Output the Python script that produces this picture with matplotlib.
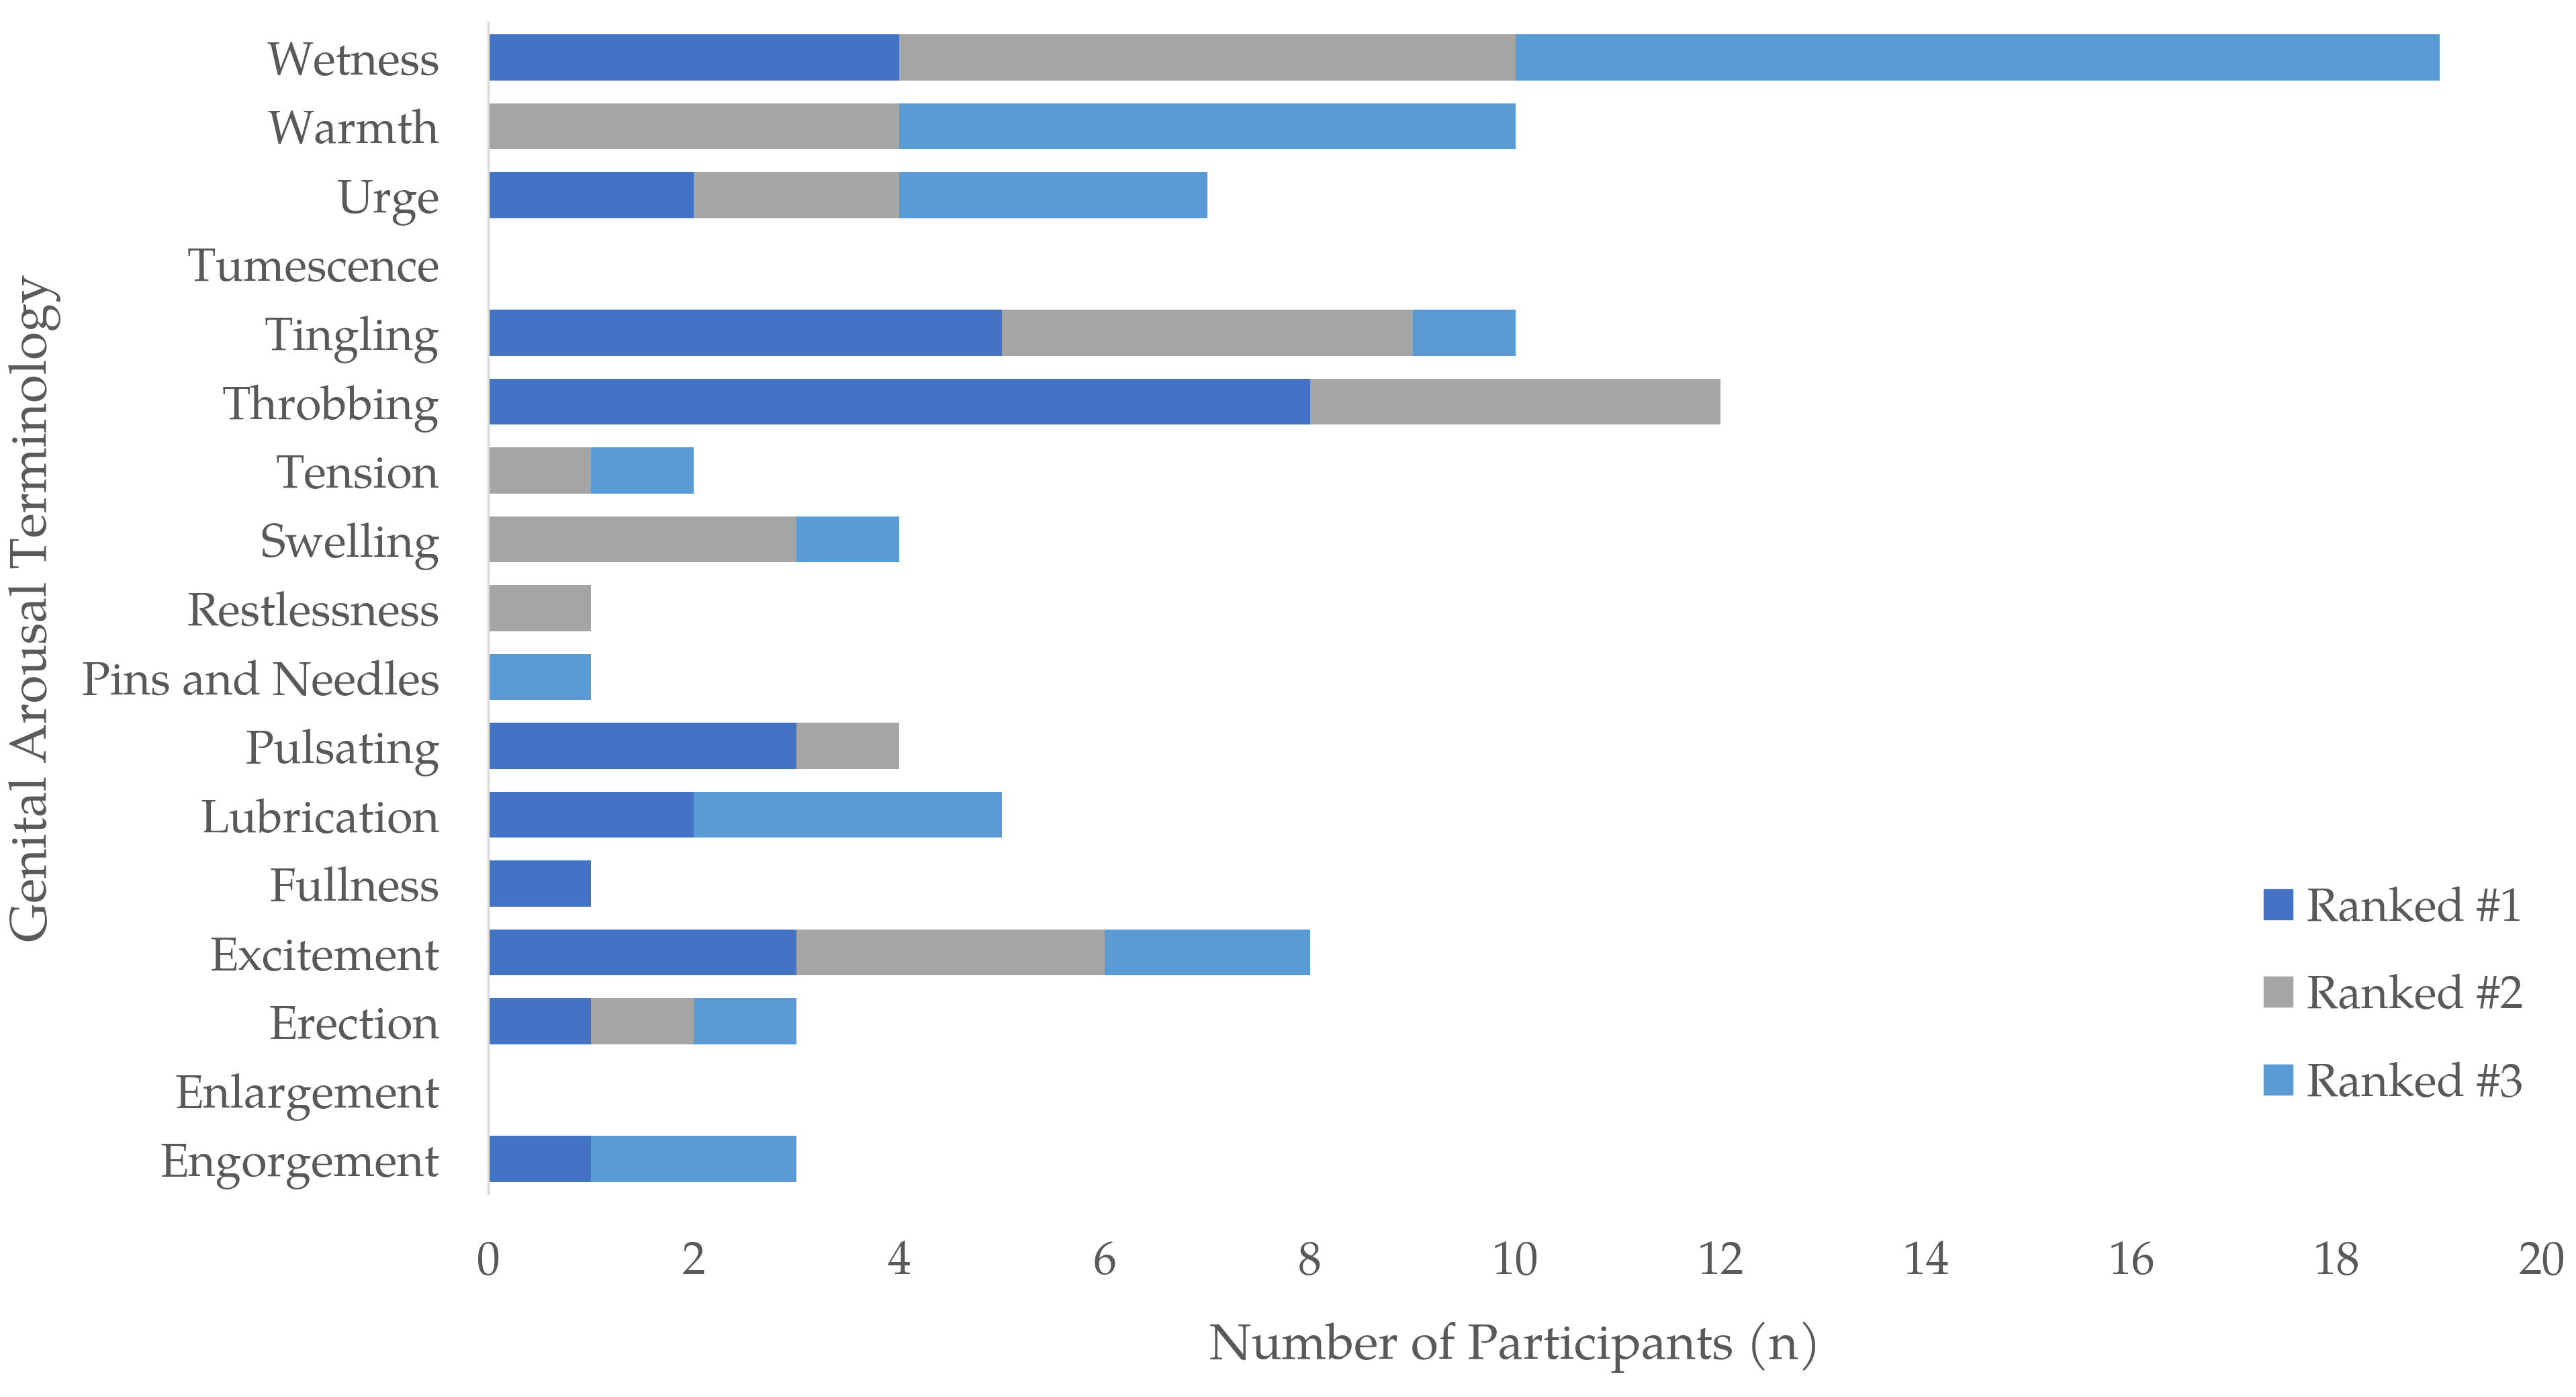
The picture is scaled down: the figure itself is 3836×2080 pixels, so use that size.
import numpy as np
import matplotlib
matplotlib.use("Agg")
import matplotlib.pyplot as plt
from matplotlib.patches import Patch

# categories listed bottom to top, as drawn
terms = ["Engorgement", "Enlargement", "Erection", "Excitement", "Fullness",
         "Lubrication", "Pulsating", "Pins and Needles", "Restlessness",
         "Swelling", "Tension", "Throbbing", "Tingling", "Tumescence",
         "Urge", "Warmth", "Wetness"]
ranked1 = [1, 0, 1, 3, 1, 2, 3, 0, 0, 0, 0, 8, 5, 0, 2, 0, 4]
ranked2 = [0, 0, 1, 3, 0, 0, 1, 0, 1, 3, 1, 4, 4, 0, 2, 4, 6]
ranked3 = [2, 0, 1, 2, 0, 3, 0, 1, 0, 1, 1, 0, 1, 0, 3, 6, 9]
series_names = ["Ranked #1", "Ranked #2", "Ranked #3"]
colors = ["#4472C4", "#A5A5A5", "#5B9BD5"]

plt.rcParams['font.family'] = ['TeX Gyre Pagella', 'URW Palladio L', 'P052',
                               'Liberation Serif', 'DejaVu Serif']
text_col = "#595959"

fig = plt.figure(figsize=(38.37, 20.8), dpi=100)
ax = fig.add_axes([0.1895, 0.1457, 0.7972, 0.8379])

y = np.arange(len(terms))
left = np.zeros(len(terms))
for vals, name, c in zip([ranked1, ranked2, ranked3], series_names, colors):
    ax.barh(y, vals, left=left, height=0.67, color=c, label=name)
    left = left + np.array(vals)

ax.set_xlim(0, 20)
ax.set_ylim(-0.5, len(terms) - 0.5)
ax.set_xticks(np.arange(0, 21, 2))
ax.set_yticks(y)
ax.set_yticklabels(terms)
ax.tick_params(axis='both', length=0, labelsize=50, colors=text_col)
ax.tick_params(axis='x', pad=50)
ax.tick_params(axis='y', pad=52)

for s in ["top", "right", "bottom"]:
    ax.spines[s].set_visible(False)
ax.spines["left"].set_color("#D9D9D9")
ax.spines["left"].set_linewidth(2.5)

ax.set_xlabel("Number of Participants (n)", fontsize=54, color=text_col, labelpad=36)
ax.set_ylabel("Genital Arousal Terminology", fontsize=55, color=text_col)
ax.yaxis.set_label_coords(-0.208, 0.5)

handles = [Patch(color=c, label=n) for c, n in zip(colors, series_names)]
ax.legend(handles=handles, loc="center left", bbox_to_anchor=(0.853, 0.167),
          frameon=False, fontsize=50, labelcolor=text_col, borderpad=0,
          handlelength=0.62, handleheight=0.62, handletextpad=0.3,
          labelspacing=0.86)

fig.savefig("out.png", dpi=100)
